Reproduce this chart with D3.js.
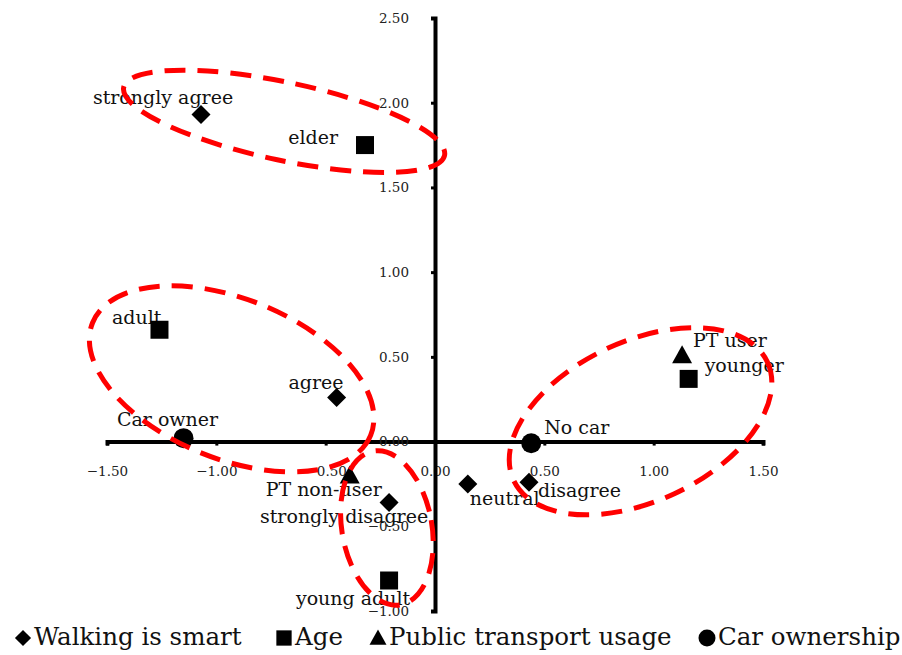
<!DOCTYPE html>
<html><head><meta charset="utf-8">
<script src="https://cdn.jsdelivr.net/npm/d3@7"></script>
<style>html,body{margin:0;padding:0;background:#fff}svg{display:block}</style>
</head><body>
<script>
// ---- data ----
const seriesNames = ["Walking is smart", "Age", "Public transport usage", "Car ownership"];
const seriesShapes = ["diamond", "square", "triangle", "circle"];
const walkingLabels = ["strongly agree", "agree", "neutral", "disagree", "strongly disagree"];
const walkingX = [-1.07, -0.45, 0.15, 0.43, -0.21];
const walkingY = [1.93, 0.26, -0.25, -0.24, -0.36];
const ageLabels = ["elder", "adult", "younger", "young adult"];
const ageX = [-0.32, -1.26, 1.16, -0.21];
const ageY = [1.75, 0.66, 0.37, -0.82];
const ptLabels = ["PT user", "PT non-user"];
const ptX = [1.13, -0.39];
const ptY = [0.51, -0.20];
const carLabels = ["Car owner", "No car"];
const carX = [-1.15, 0.44];
const carY = [0.02, -0.01];
const xTicks = [-1.5, -1.0, -0.5, 0.0, 0.5, 1.0, 1.5];
const yTicks = [-1.0, -0.5, 0.0, 0.5, 1.0, 1.5, 2.0, 2.5];
// cluster ellipses (centres in data units)
const clusterCX = [-0.69, -0.93, -0.22, 0.94];
const clusterCY = [1.89, 0.37, -0.51, 0.12];

// ---- layout (positions/styles) ----
const W = 902, H = 655;
const labelPlace = {
  "strongly agree": ["middle", -38, -16],
  "elder": ["end", -27, -6],
  "adult": ["end", 2, -11],
  "agree": ["end", 7, -14],
  "Car owner": ["middle", -16, -17],
  "PT non-user": ["middle", -26, 16],
  "strongly disagree": ["middle", -45, 15],
  "young adult": ["middle", -36, 19],
  "neutral": ["start", 2, 16],
  "disagree": ["start", 9, 10],
  "No car": ["start", 13, -14],
  "PT user": ["start", 11, -13],
  "younger": ["start", 16, -12]
};
const clusterShape = [[164, 39, 12], [150, 80, 22], [45, 78, -10], [140, 80, -25]];
const serif = "'DejaVu Serif', serif";

const svg = d3.select("body").append("svg").attr("width", W).attr("height", H);
const x = d3.scaleLinear().domain([-1.5, 1.5]).range([107, 763]);
const y = d3.scaleLinear().domain([-1.0, 2.5]).range([611, 18]);

// axes
const xAxis = d3.axisBottom(x).tickValues(xTicks).tickSize(4).tickSizeOuter(4).tickPadding(26)
  .tickFormat(d3.format(".2f"));
const gx = svg.append("g").attr("transform", `translate(0,${y(0)})`).call(xAxis);
const yAxis = d3.axisLeft(y).tickValues(yTicks).tickSize(4).tickSizeOuter(4).tickPadding(22)
  .tickFormat(d3.format(".2f"));
const gy = svg.append("g").attr("transform", `translate(${x(0)},0)`).call(yAxis);
[gx, gy].forEach(g => {
  g.select(".domain").attr("stroke", "#000").attr("stroke-width", 4);
  g.selectAll(".tick line").attr("stroke", "#000").attr("stroke-width", 3);
  g.selectAll(".tick text").attr("fill", "#222").style("font-family", serif).style("font-size", "13.5px");
});
gx.selectAll(".tick text").attr("dy", "0.35em");

function diamondPath(s) { return `M0,${-s}L${s},0L0,${s}L${-s},0Z`; }
const groups = [
  [walkingLabels, walkingX, walkingY, 0],
  [ageLabels, ageX, ageY, 1],
  [ptLabels, ptX, ptY, 2],
  [carLabels, carX, carY, 3]
];
function shapePath(shape, k) {
  if (shape === "diamond") return diamondPath(9.5 * k);
  if (shape === "square") return `M${-9 * k},${-9 * k}h${18 * k}v${18 * k}h${-18 * k}Z`;
  if (shape === "triangle") return `M0,${-10 * k}L${10 * k},${8 * k}L${-10 * k},${8 * k}Z`;
  return d3.symbol().type(d3.symbolCircle).size(Math.PI * 100 * k * k)();
}
const labelLayer = svg.append("g");
groups.forEach(([labels, xs, ys, si]) => {
  labels.forEach((lab, i) => {
    const px = x(xs[i]), py = y(ys[i]);
    svg.append("path").attr("d", shapePath(seriesShapes[si], 1))
      .attr("transform", `translate(${px},${py})`).attr("fill", "#000");
    const p = labelPlace[lab];
    labelLayer.append("text").attr("x", px + p[1]).attr("y", py + p[2])
      .attr("text-anchor", p[0]).attr("dominant-baseline", "middle")
      .style("font-family", serif).style("font-size", "19px").attr("fill", "#111").text(lab);
  });
});

// cluster ellipses
clusterCX.forEach((cx, i) => {
  const [rx, ry, rot] = clusterShape[i];
  svg.append("ellipse")
    .attr("transform", `translate(${x(cx)},${y(clusterCY[i])}) rotate(${rot})`)
    .attr("rx", rx).attr("ry", ry)
    .attr("fill", "none").attr("stroke", "#ff0000").attr("stroke-width", 5)
    .attr("stroke-dasharray", "21,12");
});

// legend
const legendX = [23, 284, 378, 707];
const legend = svg.append("g").attr("transform", "translate(0,638)");
seriesNames.forEach((n, i) => {
  legend.append("path").attr("d", shapePath(seriesShapes[i], 0.85))
    .attr("transform", `translate(${legendX[i]},0)`).attr("fill", "#000");
  legend.append("text").attr("x", legendX[i] + 11).attr("y", 0).attr("dominant-baseline", "middle")
    .style("font-family", serif).style("font-size", "24.5px").attr("fill", "#111").text(n);
});
</script>
</body></html>
